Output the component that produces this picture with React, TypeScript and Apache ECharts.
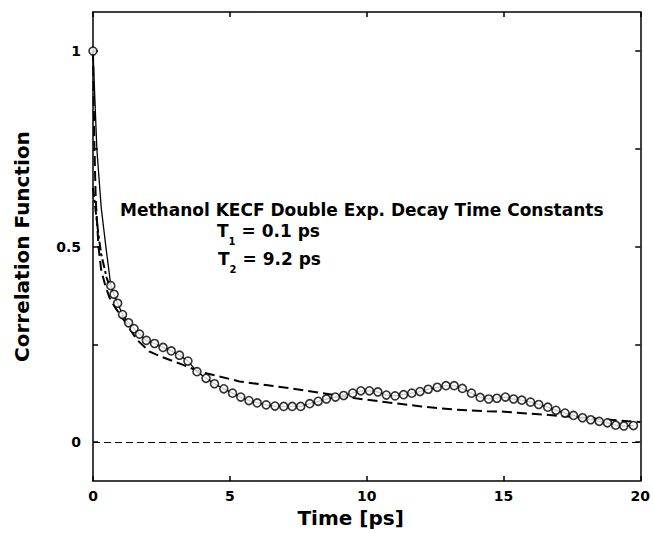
import { useEffect, useRef } from "react";
import * as echarts from "echarts";

// MD correlation function markers (time in ps, value)
const circleTime = [0, 0.65, 0.77, 0.9, 1.08, 1.3, 1.5, 1.7, 1.95, 2.25, 2.56, 2.86, 3.16, 3.47, 3.8, 4.13, 4.44, 4.78, 5.1, 5.4, 5.7, 6.0, 6.33, 6.65, 6.97, 7.28, 7.59, 7.92, 8.23, 8.53, 8.86, 9.16, 9.49, 9.79, 10.1, 10.41, 10.72, 11.04, 11.35, 11.65, 11.95, 12.25, 12.58, 12.9, 13.2, 13.5, 13.83, 14.15, 14.46, 14.76, 15.07, 15.37, 15.67, 15.99, 16.29, 16.62, 16.92, 17.25, 17.56, 17.89, 18.19, 18.5, 18.8, 19.1, 19.4, 19.75];
const circleValue = [1, 0.4, 0.378, 0.355, 0.326, 0.305, 0.29, 0.276, 0.26, 0.252, 0.242, 0.233, 0.222, 0.207, 0.18, 0.163, 0.149, 0.136, 0.125, 0.115, 0.106, 0.1, 0.095, 0.092, 0.091, 0.091, 0.091, 0.098, 0.104, 0.11, 0.115, 0.119, 0.125, 0.131, 0.131, 0.128, 0.12, 0.118, 0.121, 0.125, 0.129, 0.135, 0.14, 0.144, 0.144, 0.137, 0.125, 0.114, 0.11, 0.112, 0.115, 0.11, 0.107, 0.102, 0.096, 0.089, 0.081, 0.074, 0.068, 0.062, 0.057, 0.053, 0.049, 0.043, 0.041, 0.042];

// unmarked points of the MD curve during the fast initial decay
const fastTime = [0.14, 0.3, 0.47];
const fastValue = [0.75, 0.6, 0.5];

// double exponential fit (dashed)
const fitTime = [0, 0.05, 0.1, 0.2, 0.3, 0.45, 0.6, 0.8, 1.0, 1.22, 1.6, 2.07, 2.5, 3.27, 3.9, 5.35, 7.16, 8.38, 9.59, 10.8, 12.0, 13.2, 14.4, 14.9, 16.5, 17.2, 18.5, 20];
const fitValue = [1, 0.76, 0.62, 0.5, 0.44, 0.4, 0.37, 0.345, 0.325, 0.303, 0.262, 0.231, 0.218, 0.198, 0.18, 0.155, 0.138, 0.125, 0.112, 0.101, 0.091, 0.083, 0.079, 0.078, 0.07, 0.066, 0.059, 0.051];

// second fitted component (dash-dot), starting at 0.65
const fit2Time = [0, 0.1, 0.2, 0.3, 0.4, 0.5, 0.6];
const fit2Value = [0.65, 0.59, 0.53, 0.48, 0.45, 0.42, 0.4];

const xTickValues = [0, 5, 10, 15, 20];
const yLabelValues = [0, 0.5, 1];
const yTickValues = [0, 0.25, 0.5, 0.75, 1];

const FONT = "DejaVu Sans";

export default function App() {
  const ref = useRef<HTMLDivElement>(null);

  useEffect(() => {
    const chart = echarts.init(ref.current!, null, { renderer: "svg" });

    const pts: [number, number][] = [];
    circleTime.forEach((t, i) => pts.push([t, circleValue[i]]));
    fastTime.forEach((t, i) => pts.push([t, fastValue[i]]));
    pts.sort((a, b) => a[0] - b[0]);

    const axisLine = { show: true, onZero: false, lineStyle: { color: "#000", width: 1.5 } };
    const tick = { show: true, inside: true, length: 5, lineStyle: { color: "#000", width: 1.5 } };
    const label = { color: "#000", fontFamily: FONT, fontWeight: "bold" as const, fontSize: 14 };
    const nameStyle = { color: "#000", fontFamily: FONT, fontWeight: "bold" as const, fontSize: 20 };
    const richSub = {
      m: { fontFamily: FONT, fontWeight: "bold", fontSize: 17, lineHeight: 24, verticalAlign: "top", fill: "#000" },
      s: { fontFamily: FONT, fontWeight: "bold", fontSize: 10, lineHeight: 10, verticalAlign: "bottom", fill: "#000" },
    };

    chart.setOption({
      animation: false,
      backgroundColor: "#fff",
      grid: { left: 93, right: 10, top: 12, bottom: 48, containLabel: false },
      xAxis: [
        {
          type: "value", position: "bottom", min: 0, max: 20, interval: 5,
          axisLine, axisTick: { ...tick, customValues: xTickValues },
          axisLabel: { ...label, margin: 8, customValues: xTickValues },
          splitLine: { show: false },
          name: "Time [ps]", nameLocation: "middle", nameGap: 24,
          nameTextStyle: { ...nameStyle, padding: [0, 32, 0, 0] },
        },
        {
          type: "value", position: "top", min: 0, max: 20, interval: 5,
          axisLine, axisTick: { ...tick, customValues: xTickValues },
          axisLabel: { show: false }, splitLine: { show: false },
        },
      ],
      yAxis: [
        {
          type: "value", position: "left", min: -0.1, max: 1.1,
          axisLine, axisTick: { ...tick, customValues: yTickValues },
          axisLabel: { ...label, margin: 12, customValues: yLabelValues, formatter: (v: number) => String(v) },
          splitLine: { show: false },
          name: "Correlation Function", nameLocation: "middle", nameGap: 61,
          nameTextStyle: nameStyle,
        },
        {
          type: "value", position: "right", min: -0.1, max: 1.1,
          axisLine, axisTick: { ...tick, customValues: yTickValues },
          axisLabel: { show: false }, splitLine: { show: false },
        },
      ],
      series: [
        {
          type: "line", data: pts, showSymbol: false, symbol: "none",
          lineStyle: { color: "#000", width: 1.3 }, z: 2,
          markLine: {
            silent: true, symbol: ["none", "none"], label: { show: false },
            lineStyle: { color: "#000", width: 1, type: [7, 4] },
            data: [{ yAxis: 0 }],
          },
        },
        {
          type: "line", data: fitTime.map((t, i) => [t, fitValue[i]]), showSymbol: false, symbol: "none",
          lineStyle: { color: "#000", width: 2, type: [10, 5] }, z: 3,
        },
        {
          type: "line", data: fit2Time.map((t, i) => [t, fit2Value[i]]), showSymbol: false, symbol: "none",
          lineStyle: { color: "#000", width: 2, type: [9, 3, 3, 3] }, z: 3,
        },
        {
          type: "scatter", data: circleTime.map((t, i) => [t, circleValue[i]]),
          symbol: "circle", symbolSize: 8,
          itemStyle: { color: "#fff", borderColor: "#000", borderWidth: 1.6 }, z: 4,
        },
      ],
      graphic: [
        {
          type: "text", left: 120, top: 201,
          style: { text: "Methanol KECF Double Exp. Decay Time Constants", fill: "#000", font: `bold 17px "${FONT}"` },
        },
        {
          type: "text", left: 217, top: 222,
          style: { text: "{m|T}{s|1}{m| = 0.1 ps}", fill: "#000", rich: richSub },
        },
        {
          type: "text", left: 218, top: 250,
          style: { text: "{m|T}{s|2}{m| = 9.2 ps}", fill: "#000", rich: richSub },
        },
      ],
    });

    return () => chart.dispose();
  }, []);

  return <div ref={ref} style={{ position: "absolute", left: 0, top: 0, width: 653, height: 533, background: "#fff" }} />;
}
